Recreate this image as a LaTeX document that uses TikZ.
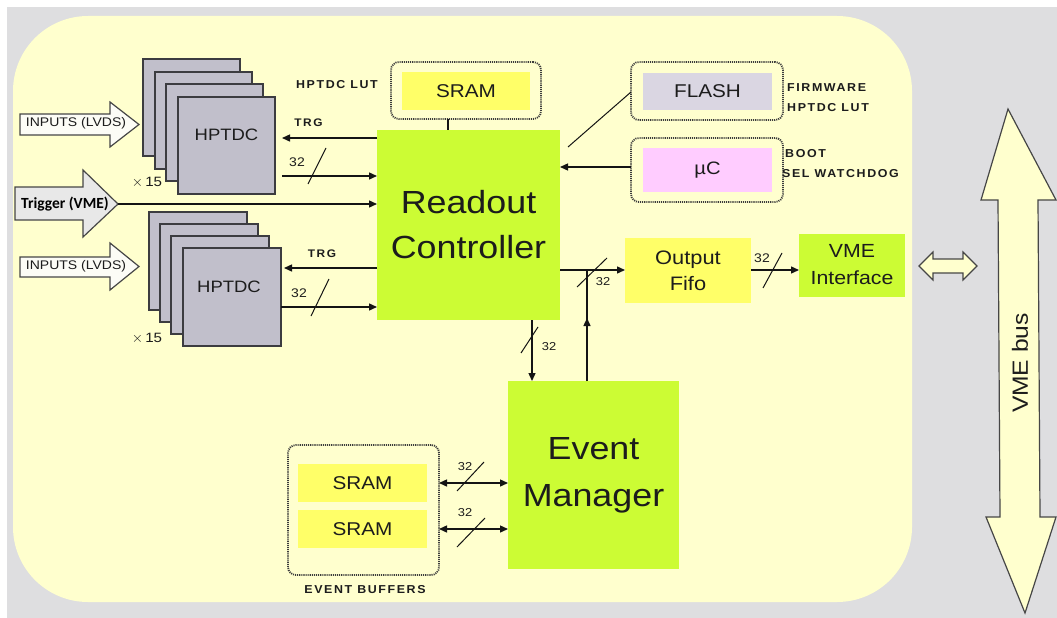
\documentclass[tikz,border=0pt]{standalone}
\usepackage{fontspec}
\setmainfont{Liberation Sans}[FakeStretch=1.12]
\newfontfamily\labfont{Liberation Sans}[FakeStretch=1.08, LetterSpace=14]
\newfontfamily\trigfont{Carlito}
\usetikzlibrary{arrows.meta}

\definecolor{bggray}{RGB}{222,222,224}
\definecolor{panel}{RGB}{255,255,206}
\definecolor{cgreen}{RGB}{204,252,52}
\definecolor{cyellow}{RGB}{255,255,104}
\definecolor{flashc}{RGB}{218,214,226}
\definecolor{ucpink}{RGB}{255,204,255}
\definecolor{chipgray}{RGB}{193,191,203}
\definecolor{chipedge}{RGB}{60,60,64}
\definecolor{dotgray}{RGB}{60,60,60}
\definecolor{wirec}{RGB}{20,20,20}
\definecolor{txt}{RGB}{28,28,28}
\definecolor{edgegray}{RGB}{70,70,70}
\definecolor{trigfill}{RGB}{232,232,232}
\definecolor{infill}{RGB}{252,252,246}

\begin{document}
\begin{tikzpicture}[x=1pt,y=-1pt,
  big/.style={fill=cgreen, inner sep=0, outer sep=0, align=center, text=txt,
    font=\fontsize{32}{45}\selectfont},
  mid/.style={fill=cyellow, inner sep=0, outer sep=0, align=center, text=txt},
  dotbox/.style={draw=dotgray, line width=1.8pt, dash pattern=on 1.1pt off 1pt,
    rounded corners=8pt, inner sep=0, outer sep=0},
  chip/.style={draw=chipedge, line width=1.4pt, fill=chipgray, minimum size=97pt,
    inner sep=0, outer sep=0},
  wire/.style={line width=1.4pt, draw=wirec},
  arr/.style={wire, -{Triangle[length=8pt,width=7pt]}},
  darr/.style={wire, {Triangle[length=8pt,width=7pt]}-{Triangle[length=8pt,width=7pt]}},
  slash/.style={line width=1pt, draw=wirec},
  lab/.style={font=\labfont\bfseries\fontsize{11.5}{13}\selectfont, text=txt, inner sep=0},
  num/.style={font=\fontsize{12.5}{14}\selectfont, text=txt, inner sep=0},
  blockarrow/.style={draw=edgegray, line width=1.2pt, line join=miter},
]
% page and board outline
\fill[white] (0,0) rectangle (1057,618);
\useasboundingbox (0,0) rectangle (1057,618);
\fill[bggray] (7,7) rectangle (1057,618);
\fill[panel, rounded corners=75pt] (13,16) rectangle (912,602);

% --- HPTDC stacks -------------------------------------------------
\node[chip] (hu1) at (191.5,107.5) {};
\node[chip] (hu2) at (203.5,120.5) {};
\node[chip] (hu3) at (214.5,132.5) {};
\node[chip] (hu4) at (226.5,145.5) {};
\node[font=\fontsize{16.5}{18}\selectfont, text=txt] (hutxt) at (226.5,135) {HPTDC};
\node[font=\fontsize{13.5}{15}\selectfont, text=txt, inner sep=0] (hux) at (147,182) {$\times$\,15};

\node[chip, minimum size=98pt] (hl1) at (198,261) {};
\node[chip, minimum size=98pt] (hl2) at (209,273) {};
\node[chip, minimum size=98pt] (hl3) at (220,285) {};
\node[chip, minimum size=98pt] (hl4) at (232,297) {};
\node[font=\fontsize{16.5}{18}\selectfont, text=txt] (hltxt) at (229,287) {HPTDC};
\node[font=\fontsize{13.5}{15}\selectfont, text=txt, inner sep=0] (hlx) at (147,338) {$\times$\,15};

% --- input block arrows --------------------------------------------
\draw[blockarrow, fill=infill] (20,114) -- (110,114) -- (110,102) -- (139,124.5)
  -- (110,147) -- (110,135) -- (20,135) -- cycle;
\node[font=\fontsize{12.5}{14}\selectfont, text=txt] (inu) at (76,123.5) {INPUTS (LVDS)};
\draw[blockarrow, fill=infill] (20,257) -- (110,257) -- (110,243) -- (139,266.5)
  -- (110,290) -- (110,277) -- (20,277) -- cycle;
\node[font=\fontsize{12.5}{14}\selectfont, text=txt] (inl) at (76,266) {INPUTS (LVDS)};

\draw[blockarrow, fill=trigfill] (15,187) -- (83,187) -- (83,170) -- (118,204)
  -- (83,237) -- (83,220) -- (15,220) -- cycle;
\node[font=\trigfont\bfseries\fontsize{15.5}{17}\selectfont, text=black] (trig) at (65,204) {Trigger (VME)};
\coordinate (trigtip) at (118,204);

% --- main blocks ----------------------------------------------------
\node[big, minimum width=183pt, minimum height=190pt] (rc) at (468.5,225) {Readout\\Controller};
\node[big, minimum width=171pt, minimum height=188pt, font=\fontsize{32}{47}\selectfont] (em) at (593.5,475) {Event\\Manager};
\node[mid, minimum width=126pt, minimum height=65pt, font=\fontsize{19.5}{26}\selectfont] (fifo) at (688,270.5) {Output\\Fifo};
\node[mid, fill=cgreen, minimum width=106pt, minimum height=63pt, font=\fontsize{19}{27}\selectfont] (vme) at (852,265) {VME\\Interface};

% --- memories -------------------------------------------------------
\node[dotbox, minimum width=150pt, minimum height=57pt] (lutbox) at (466,90.5) {};
\node[mid, minimum width=128pt, minimum height=38pt, font=\fontsize{18.5}{20}\selectfont] (lutram) at (466,91) {SRAM};
\node[lab, anchor=east] (lutlab) at (378,85) {HPTDC LUT};

\node[dotbox, minimum width=152pt, minimum height=58pt] (flashbox) at (707,91) {};
\node[mid, fill=flashc, minimum width=129pt, minimum height=37pt, font=\fontsize{18.5}{20}\selectfont] (flash) at (707.5,91.5) {FLASH};
\node[lab, anchor=west] (fw1) at (787,88) {FIRMWARE};
\node[lab, anchor=west] (fw2) at (787,108) {HPTDC LUT};

\node[dotbox, minimum width=152pt, minimum height=64pt] (ucbox) at (707,170) {};
\node[mid, fill=ucpink, minimum width=129pt, minimum height=44pt, font=\fontsize{18}{20}\selectfont] (uc) at (707.5,170) {µC};
\node[lab, anchor=west] (bt1) at (785,154) {BOOT};
\node[lab, anchor=west] (bt2) at (782,174) {SEL WATCHDOG};

\node[dotbox, minimum width=151pt, minimum height=130pt] (buf) at (363.5,510) {};
\node[mid, minimum width=129pt, minimum height=38pt, font=\fontsize{18.5}{20}\selectfont] (ram1) at (362.5,483) {SRAM};
\node[mid, minimum width=129pt, minimum height=38pt, font=\fontsize{18.5}{20}\selectfont] (ram2) at (362.5,529) {SRAM};
\node[lab] (buflab) at (365,590) {EVENT BUFFERS};

% --- VME bus ---------------------------------------------------------
\draw[blockarrow, fill=panel] (919,266) -- (933,252) -- (933,259) -- (963,259) -- (963,252)
  -- (977,266) -- (963,280) -- (963,273) -- (933,273) -- (933,280) -- cycle;
\draw[blockarrow, fill=panel] (1008,109) -- (1056,200) -- (1038,200) -- (1040,517)
  -- (1056,517) -- (1025,613) -- (986,517) -- (1000,517) -- (998,200) -- (981,200) -- cycle;
\node[rotate=90, font=\fontsize{22}{24}\selectfont, text=txt] (busl) at (1020,363) {VME bus};

% --- connectors: HPTDC <-> Readout Controller -----------------------
\draw[arr] (rc.west |- 0,138) -- ([xshift=7pt]hu4.east |- 0,138);
\node[lab, font=\labfont\bfseries\fontsize{11}{12}\selectfont] (trgu) at (308.5,123) {TRG};
\draw[arr] ([xshift=7pt]hu4.east |- 0,176) -- (rc.west |- 0,176);
\draw[slash] (308,184) -- (326,148);
\node[num] (nu) at (297,162) {32};

\draw[arr] (trigtip) -- (rc.west |- trigtip);

\draw[arr] (rc.west |- 0,268) -- ([xshift=3pt]hl4.east |- 0,268);
\node[lab, font=\labfont\bfseries\fontsize{11}{12}\selectfont] (trgl) at (322,254) {TRG};
\draw[arr] (hl4.east |- 0,307) -- (rc.west |- 0,307);
\draw[slash] (311,316) -- (329,279);
\node[num] (nl) at (299,293) {32};

% --- connectors: memories --------------------------------------------
\draw[wire] (lutbox.south -| 448,0) -- (rc.north -| 448,0);
\draw[wire, line width=1pt] (flashbox.west |- 0,92) -- ([xshift=8pt,yshift=-17pt]rc.north east);
\draw[arr] (ucbox.west |- 0,167) -- (rc.east |- 0,167);

% --- connectors: data path ---------------------------------------------
\coordinate (tap) at (587,270);
\draw[arr] (rc.east |- tap) -- (fifo.west |- tap);
\draw[slash] (577,287) -- (607,258);
\node[num, font=\fontsize{11.5}{13}\selectfont] (no) at (603,282) {32};

\draw[arr] (fifo.east |- tap) -- (vme.west |- tap);
\draw[slash] (763,288) -- (782,253);
\node[num] (nv) at (762,258) {32};

\draw[arr] (rc.south -| 532,0) -- (em.north -| 532,0);
\draw[slash] (521,353) -- (538,327);
\node[num, font=\fontsize{11.5}{13}\selectfont] (ne) at (549,347) {32};

\draw[wire] (em.north -| tap) -- (tap);
\draw[arr] (em.north -| tap) -- (587,318);

\draw[darr] (buf.east |- ram1) -- (em.west |- ram1);
\draw[slash] (457,491) -- (484,462);
\node[num, font=\fontsize{11.5}{13}\selectfont] (nb1) at (465,467) {32};
\draw[darr] (buf.east |- ram2) -- (em.west |- ram2);
\draw[slash] (457,547) -- (485,518);
\node[num, font=\fontsize{11.5}{13}\selectfont] (nb2) at (465,513) {32};
\end{tikzpicture}
\end{document}
